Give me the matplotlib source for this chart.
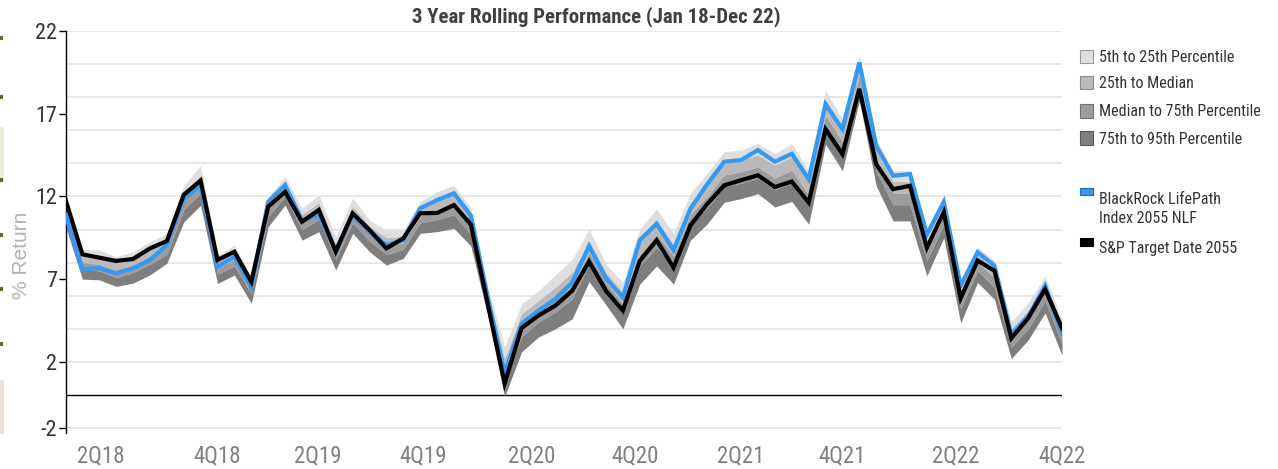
import matplotlib
matplotlib.use("Agg")
import matplotlib.pyplot as plt
from matplotlib import font_manager
from matplotlib.patches import Rectangle
import numpy as np


def pick(cands):
    for c in cands:
        try:
            font_manager.findfont(font_manager.FontProperties(family=c),
                                  fallback_to_default=False)
            return c
        except Exception:
            pass
    return None


narrow_name = pick(['Liberation Sans Narrow', 'Arial Narrow', 'Roboto Condensed',
                    'Open Sans Condensed', 'DejaVu Sans Condensed'])
HAVE_NARROW = narrow_name is not None
NARROW = [narrow_name or 'Liberation Sans', 'DejaVu Sans']
REG = ['Liberation Sans', 'DejaVu Sans']

# ---------------- data (monthly, Jan 2018 - Dec 2022) ----------------
p5 = [12.3, 8.8, 8.76, 8.36, 8.66, 9.26, 9.76, 12.66, 13.86, 8.46,
      9.06, 7.15, 11.98, 13.19, 11.28, 12.08, 9.56, 11.89, 10.57, 9.97,
      9.97, 11.68, 12.28, 12.69, 11.3, 6.5, 2.9, 5.5, 6.3, 7.25,
      8.2, 10.0, 7.9, 6.8, 10.05, 11.25, 9.75, 12.2, 13.4, 14.7,
      14.8, 15.2, 14.6, 15.18, 13.55, 18.39, 16.67, 20.5, 15.46, 13.55,
      13.55, 9.92, 11.94, 6.9, 8.94, 8.12, 4.45, 5.57, 7.2, 4.55]
p25 = [11.8, 8.4, 8.4, 8.0, 8.2, 8.8, 9.4, 12.2, 13.3, 8.1,
       8.7, 6.8, 11.6, 12.8, 10.9, 11.6, 9.1, 11.4, 10.2, 9.5,
       9.6, 11.3, 11.8, 12.1, 10.8, 6.1, 2.2, 4.9, 5.7, 6.5,
       7.4, 9.3, 7.4, 6.2, 9.3, 10.5, 9.1, 11.6, 12.7, 14.0,
       14.2, 14.5, 13.9, 14.4, 12.8, 17.7, 16.0, 19.9, 14.8, 12.9,
       12.9, 9.3, 11.4, 6.3, 8.5, 7.6, 4.0, 5.1, 6.7, 4.1]
p50 = [11.3, 8.0, 7.9, 7.5, 7.8, 8.4, 9.0, 11.7, 12.8, 7.7,
       8.2, 6.4, 11.2, 12.4, 10.4, 11.1, 8.7, 10.9, 9.7, 9.0,
       9.2, 10.8, 11.2, 11.5, 10.3, 5.7, 1.5, 4.2, 5.0, 5.8,
       6.6, 8.6, 6.8, 5.5, 8.5, 9.7, 8.4, 10.9, 12.0, 13.3,
       13.5, 13.8, 13.1, 13.6, 12.1, 16.9, 15.3, 19.3, 14.2, 12.2,
       12.2, 8.7, 10.8, 5.8, 8.0, 7.1, 3.4, 4.6, 6.2, 3.6]
p75 = [10.9, 7.6, 7.5, 7.1, 7.4, 7.9, 8.5, 11.2, 12.2, 7.3,
       7.8, 6.1, 10.8, 12.0, 10.0, 10.6, 8.2, 10.4, 9.3, 8.5,
       8.8, 10.4, 10.6, 10.9, 9.7, 5.3, 0.9, 3.5, 4.4, 5.0,
       5.8, 7.9, 6.2, 4.9, 7.8, 8.9, 7.7, 10.3, 11.3, 12.6,
       12.8, 13.1, 12.4, 12.8, 11.4, 16.2, 14.5, 18.7, 13.5, 11.5,
       11.5, 8.1, 10.3, 5.2, 7.5, 6.5, 2.9, 4.0, 5.7, 3.1]
p95 = [10.2, 7.0, 6.96, 6.56, 6.76, 7.26, 7.96, 10.46, 11.46, 6.74,
       7.25, 5.54, 10.17, 11.48, 9.36, 9.87, 7.55, 9.77, 8.66, 7.85,
       8.26, 9.77, 9.87, 10.07, 9.0, 4.8, -0.1, 2.6, 3.5, 4.0,
       4.6, 6.85, 5.45, 4.0, 6.7, 7.8, 6.7, 9.35, 10.35, 11.65,
       11.87, 12.17, 11.36, 11.7, 10.32, 15.16, 13.55, 17.78, 12.64, 10.52,
       10.52, 7.2, 9.5, 4.35, 6.8, 5.78, 2.2, 3.33, 4.96, 2.4]
blackrock = [10.9, 7.6, 7.66, 7.36, 7.66, 8.16, 9.06, 11.86, 12.66, 7.75,
             8.36, 6.54, 11.68, 12.69, 10.57, 10.88, 8.76, 10.88, 9.87, 9.06,
             9.36, 11.28, 11.78, 12.19, 10.85, 5.9, 1.3, 4.3, 5.1, 5.8,
             6.8, 9.0, 7.05, 5.9, 9.35, 10.35, 8.75, 11.25, 12.75, 14.1,
             14.2, 14.8, 14.1, 14.58, 13.04, 17.58, 16.07, 20.1, 15.06, 13.25,
             13.35, 9.7, 11.67, 6.6, 8.63, 7.82, 3.63, 4.76, 6.6, 3.73]
sp_target = [11.8, 8.5, 8.3, 8.1, 8.22, 8.86, 9.3, 12.1, 12.96, 8.16,
             8.66, 6.84, 11.38, 12.28, 10.47, 11.18, 8.66, 10.98, 9.97, 8.86,
             9.47, 10.98, 11.0, 11.48, 10.3, 5.5, 0.7, 4.04, 4.8, 5.4,
             6.3, 8.07, 6.3, 5.1, 8.1, 9.35, 7.7, 10.25, 11.55, 12.67,
             12.98, 13.28, 12.57, 12.9, 11.63, 16.07, 14.56, 18.5, 13.95, 12.44,
             12.64, 8.9, 11.05, 5.85, 8.12, 7.51, 3.43, 4.65, 6.39, 4.04]

xtick_pos = [2.07, 8.96, 14.95, 21.2, 27.6, 33.7, 40.0, 46.0, 52.7, 59.0]
xtick_labels = ['2Q18', '4Q18', '2Q19', '4Q19', '2Q20', '4Q20', '2Q21', '4Q21', '2Q22', '4Q22']
ytick_vals = [22, 17, 12, 7, 2, -2]
grid_vals = [-2, 2, 4, 6, 8, 10, 12, 14, 16, 18, 20, 22]

band_labels = ['5th to 25th Percentile', '25th to Median',
               'Median to 75th Percentile', '75th to 95th Percentile']
band_colors = ['#dedede', '#bababa', '#9c9c9c', '#7e7e7e']
series_labels = ['BlackRock LifePath\nIndex 2055 NLF', 'S&P Target Date 2055']
series_colors = ['#3399f3', '#000000']
title = '3 Year Rolling Performance (Jan 18-Dec 22)'

# font sizes depend on whether a narrow face exists
if HAVE_NARROW:
    fs_xt, fs_yt, fs_leg, fs_title = 16.5, 16, 11.5, 15
else:
    fs_xt, fs_yt, fs_leg, fs_title = 14, 14, 10, 12.5

# ---------------- figure ----------------
W, H = 1278, 469
fig = plt.figure(figsize=(W / 100, H / 100), dpi=100)
L, R, T, B = 65.5, 1062, 31, 433
ax = fig.add_axes([L / W, 1 - B / H, (R - L) / W, (B - T) / H])

x = np.arange(len(p5))
bounds = [p5, p25, p50, p75, p95]
for i in range(4):
    ax.fill_between(x, bounds[i], bounds[i + 1], color=band_colors[i],
                    linewidth=0, zorder=2)

ax.plot(x, blackrock, color=series_colors[0], lw=3.0, zorder=4,
        solid_joinstyle='miter')
ax.plot(x, sp_target, color=series_colors[1], lw=3.0, zorder=5,
        solid_joinstyle='miter')

for g in grid_vals:
    ax.axhline(g, color='#e3e3e3', lw=1.2, zorder=0)
ax.axhline(0, color='black', lw=1.0, zorder=1)

ax.set_xlim(0, 59)
ax.set_ylim(-2.3, 22)
for s in ['top', 'right', 'bottom']:
    ax.spines[s].set_visible(False)
ax.spines['left'].set_color('black')
ax.spines['left'].set_linewidth(1.0)

ax.set_yticks(ytick_vals)
ax.set_yticklabels([str(v) for v in ytick_vals], family=NARROW,
                   fontsize=fs_yt, color='#333333')
ax.tick_params(axis='y', length=5, width=1, color='black', pad=1)
ax.set_xticks(xtick_pos)
ax.set_xticklabels(xtick_labels, family=NARROW, fontsize=fs_xt, color='#808080')
ax.tick_params(axis='x', length=0, pad=8)

fig.text(22 / W, 1 - 255 / H, '% Return', rotation=90, ha='center', va='center',
         family=REG, fontsize=15, color='#b3b3b3')
fig.text(596 / W, 1 - 17 / H, title, ha='center', va='center',
         family=NARROW, fontweight='bold', fontsize=fs_title, color='#404040')

# ---------------- legend (manual) ----------------
def frect(x0, y0, w, h, fc, ec=None, lw=0.8):
    fig.patches.append(Rectangle((x0 / W, 1 - (y0 + h) / H), w / W, h / H,
                                 transform=fig.transFigure, facecolor=fc,
                                 edgecolor=ec if ec else fc, linewidth=lw))

band_y = [57, 83, 111, 138]
edge_cols = ['#9a9a9a', '#8a8a8a', '#707070', '#5a5a5a']
for yc, lab, col, ec in zip(band_y, band_labels, band_colors, edge_cols):
    frect(1080, yc - 6.5, 13, 13, col, ec)
    fig.text(1099 / W, 1 - (yc + 1) / H, lab, ha='left', va='center',
             family=NARROW, fontsize=fs_leg, color='#333333')

frect(1080, 188, 13, 7, series_colors[0], '#2070c0')
fig.text(1099 / W, 1 - 209 / H, series_labels[0], ha='left', va='center',
         family=NARROW, fontsize=fs_leg, color='#333333', linespacing=1.35)
frect(1080, 238, 13, 8, series_colors[1])
fig.text(1099 / W, 1 - 248 / H, series_labels[1], ha='left', va='center',
         family=NARROW, fontsize=fs_leg, color='#333333')

# ---------------- cropped-page edge artifacts ----------------
frect(0, 127, 3, 53, '#e6efdb')
frect(0, 380, 3, 53, '#ebe3db')
for yd in [38, 97, 180, 235, 288, 343]:
    frect(0, yd - 1.5, 2, 3, '#4f6d2e')

fig.savefig('out.png', dpi=100)
